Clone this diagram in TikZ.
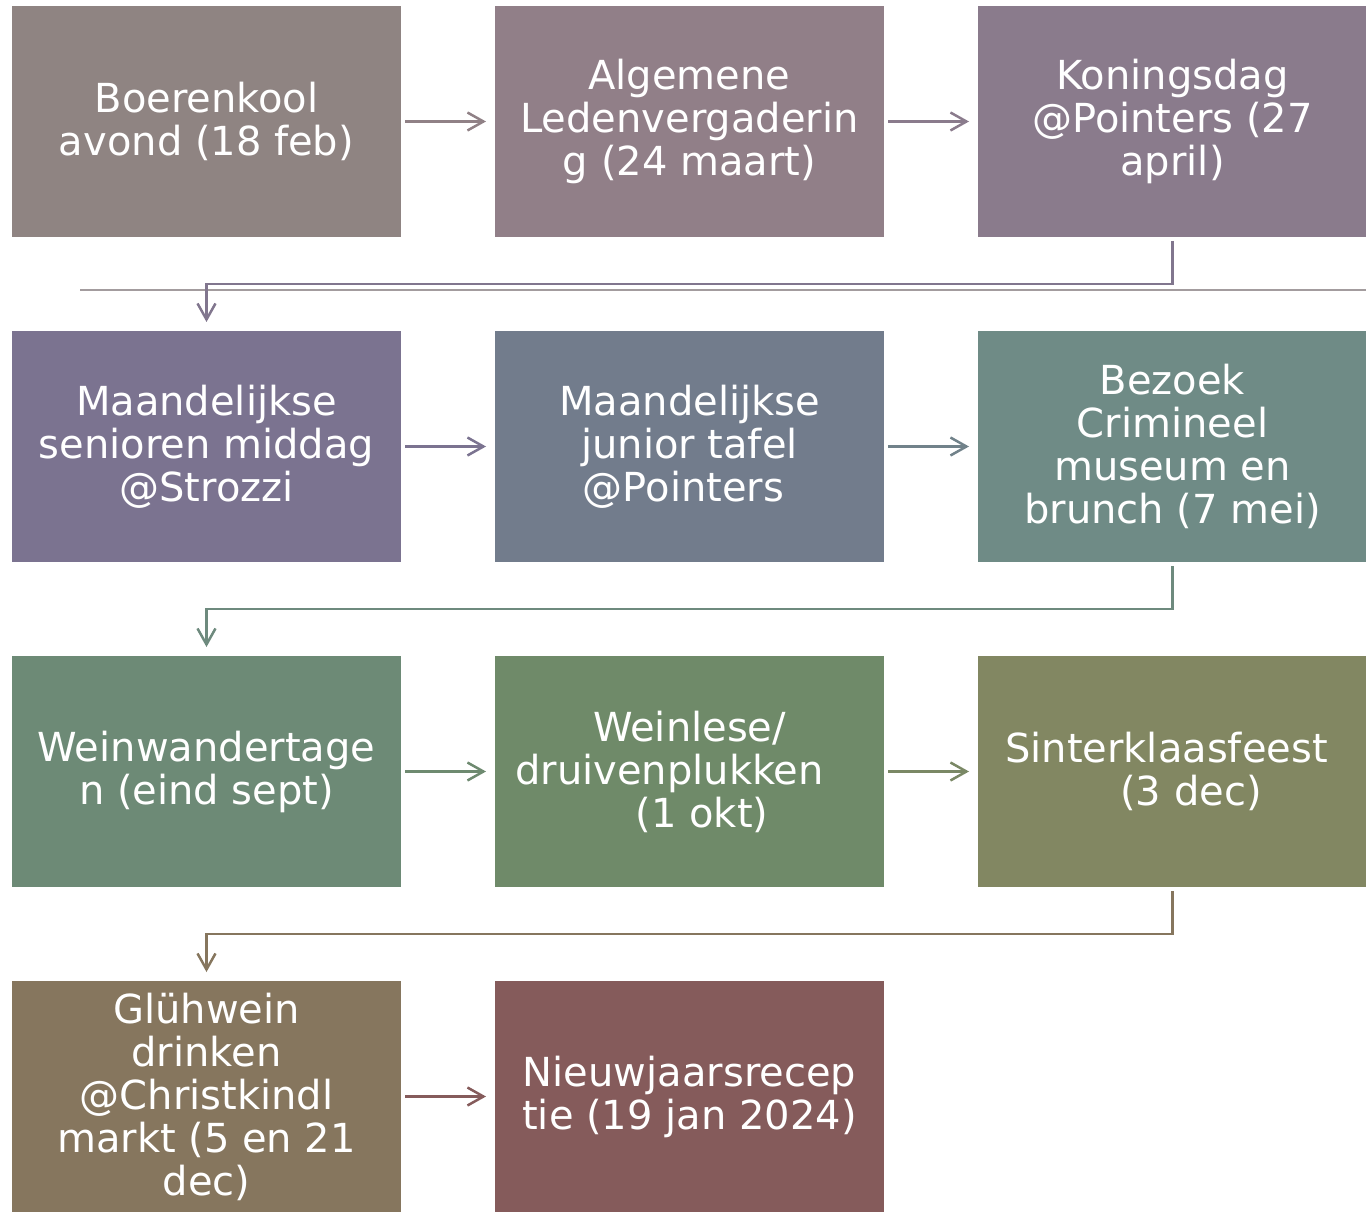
\documentclass[tikz,border=0pt]{standalone}
\usepackage{fontspec}
\setmainfont{DejaVu Sans}
\usetikzlibrary{positioning}
\usetikzlibrary{arrows.meta}

% box colours..................
\definecolor{cboer}{HTML}{8F8482}
\definecolor{calv}{HTML}{917F88}
\definecolor{cking}{HTML}{8A7B8C}
\definecolor{csen}{HTML}{7B7390}
\definecolor{cjun}{HTML}{727C8C}
\definecolor{cmus}{HTML}{6F8B86}
\definecolor{cwand}{HTML}{6D8A76}
\definecolor{cpluk}{HTML}{6F8A69}
\definecolor{csint}{HTML}{828762}
\definecolor{cgluh}{HTML}{86765E}
\definecolor{cnieuw}{HTML}{855B5B}
\definecolor{csep}{HTML}{A39C9E}

\newcommand{\gap}[1]{\hbox to #1{}}

\tikzset{
	every node/.style={align=center,outer sep=0pt},
	event/.style={minimum width=389pt,minimum height=231pt,inner sep=0pt,text=white,
		font=\fontsize{40}{43}\selectfont},
	flow/.style={line width=2.5pt,-{Straight Barb[length=16pt,width=18pt]},
		shorten <=4pt,shorten >=9pt},
}

\begin{document}
\begin{tikzpicture}[node distance=94pt]

	\useasboundingbox (0,0) rectangle (1366pt,-1214pt);

	% row 1.....................
	\node [event,fill=cboer] (boer) at (206.5pt,-121.5pt) {Boerenkool\\avond (18 feb)};
	\node [event,fill=calv,right=of boer] (alv) {Algemene\\Ledenvergaderin\\g (24 maart)};
	\node [event,fill=cking,right=of alv] (king) {Koningsdag\\@Pointers (27\\april)};

	% separator line..............
	\draw [line width=2pt,csep] (80pt,-290pt) -- (1366pt,-290pt);

	% row 2.....................
	\node [event,fill=csen,below=of boer] (sen) {Maandelijkse\\senioren middag\\@Strozzi};
	\node [event,fill=cjun,right=of sen] (jun) {Maandelijkse\\junior tafel\\@Pointers\gap{12pt}};
	\node [event,fill=cmus,right=of jun] (mus) {Bezoek\\Crimineel\\museum en\\brunch (7 mei)};

	% row 3.....................
	\node [event,fill=cwand,below=of sen] (wand) {Weinwandertage\\n (eind sept)};
	\node [event,fill=cpluk,right=of wand] (pluk) {Weinlese/\\druivenplukken\gap{40pt}\\\gap{25pt}(1 okt)};
	\node [event,fill=csint,right=of pluk] (sint) {Sinterklaasfeest\gap{12pt}\\\gap{37pt}(3 dec)};

	% row 4.....................
	\node [event,fill=cgluh,below=of wand] (gluh) {Glühwein\\drinken\\@Christkindl\\markt (5 en 21\\dec)};
	\node [event,fill=cnieuw,right=of gluh] (nieuw) {Nieuwjaarsrecep\\tie (19 jan 2024)};

	% arrows....................
	\draw [flow,color=calv!60!cboer] (boer) -- (alv);
	\draw [flow,color=cking] (alv) -- (king);
	\draw [flow,color=csen!60!cking] (king.south) -- ++(0,-47pt) -| (sen.north);
	\draw [flow,color=csen] (sen) -- (jun);
	\draw [flow,color=cjun!60!cmus] (jun) -- (mus);
	\draw [flow,color=cmus!50!cwand] (mus.south) -- ++(0,-47pt) -| (wand.north);
	\draw [flow,color=cwand!50!cpluk] (wand) -- (pluk);
	\draw [flow,color=cpluk!40!csint] (pluk) -- (sint);
	\draw [flow,color=cgluh] (sint.south) -- ++(0,-47pt) -| (gluh.north);
	\draw [flow,color=cnieuw] (gluh) -- (nieuw);

\end{tikzpicture}
\end{document}
